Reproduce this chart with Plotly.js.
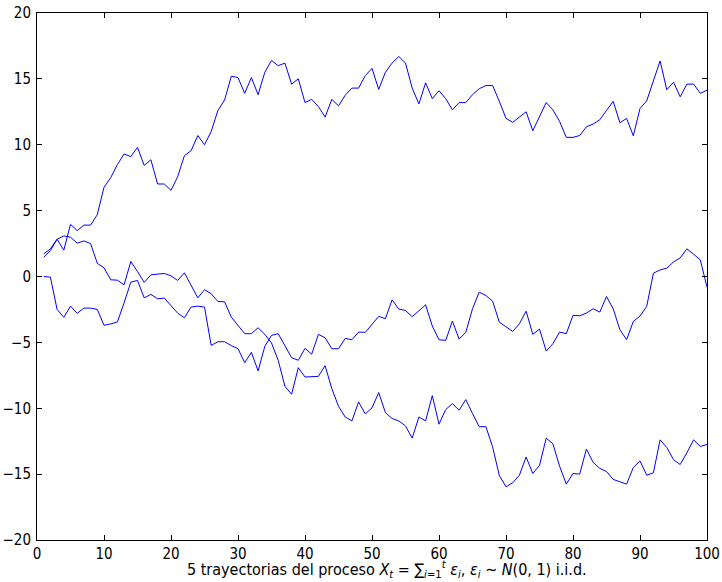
<!DOCTYPE html>
<html>
<head>
<meta charset="utf-8">
<script src="https://cdn.plot.ly/plotly-3.0.1.min.js"></script>
<style>html,body{margin:0;padding:0;background:#fff;}#chart{width:722px;height:582px;}</style>
</head>
<body>
<div id="chart"></div>
<script>
// time steps 1..100
const steps = Array.from({length: 100}, (_, i) => i + 1);

const pathA = [1.46,1.97,2.83,2.0,3.96,3.48,3.9,3.9,4.7,6.77,
  7.5,8.5,9.3,9.1,9.8,8.43,8.86,7.02,7.02,6.54,
  7.58,9.17,9.55,10.7,10.0,11.0,12.6,13.4,15.2,15.1,
  13.9,15.1,13.8,15.5,16.4,16.0,16.2,14.6,15.0,13.2,
  13.45,12.9,12.1,13.45,12.95,13.76,14.3,14.3,15.25,15.8,
  14.2,15.5,16.2,16.7,16.2,14.3,13.1,14.7,13.5,14.1,
  13.5,12.65,13.2,13.2,13.8,14.25,14.5,14.5,13.3,12.0,
  11.7,12.07,12.5,11.06,12.1,13.2,12.65,11.77,10.56,10.56,
  10.7,11.36,11.57,11.9,12.6,13.3,11.67,12.0,10.68,12.75,
  13.33,14.9,16.36,14.17,14.75,13.64,14.6,14.6,13.9,14.14];

const pathB = [1.72,2.1,2.83,3.08,2.98,2.53,2.7,2.5,1.0,0.66,
  -0.25,-0.28,-0.63,1.14,0.38,-0.45,0.13,0.2,0.23,0.05,
  -0.3,0.28,-0.68,-1.62,-1.0,-1.31,-1.9,-1.92,-3.08,-3.74,
  -4.34,-4.34,-3.89,-4.39,-5.05,-6.36,-8.33,-8.94,-6.92,-7.63,
  -7.63,-7.58,-6.77,-8.51,-9.85,-10.66,-10.96,-9.52,-10.43,-9.97,
  -8.81,-10.33,-10.78,-10.96,-11.34,-12.27,-10.66,-10.96,-9.04,-11.21,
  -10.1,-9.65,-10.15,-9.34,-10.4,-11.4,-11.4,-12.93,-15.1,-15.96,
  -15.66,-15.08,-13.7,-14.95,-14.34,-12.27,-12.7,-14.4,-15.76,-14.95,
  -15.0,-13.1,-14.1,-14.57,-14.8,-15.4,-15.58,-15.76,-14.5,-14.0,
  -15.08,-14.9,-12.4,-12.98,-13.9,-14.27,-13.38,-12.4,-12.9,-12.75];

const pathC = [0.0,-0.05,-2.5,-3.1,-2.25,-2.8,-2.4,-2.4,-2.5,-3.7,
  -3.6,-3.45,-2.0,-0.43,-0.3,-1.62,-1.36,-1.69,-1.64,-2.2,
  -2.78,-3.13,-2.32,-2.25,-2.32,-5.23,-4.95,-4.95,-5.25,-5.48,
  -6.54,-5.76,-7.17,-5.3,-4.47,-4.34,-5.3,-6.16,-6.36,-5.45,
  -5.9,-4.39,-4.65,-5.48,-5.48,-4.7,-4.8,-4.22,-4.24,-3.64,
  -3.03,-3.2,-1.77,-2.47,-2.58,-3.05,-2.58,-2.15,-3.76,-4.8,
  -4.85,-3.38,-4.75,-4.24,-2.45,-1.19,-1.44,-1.87,-3.46,-3.79,
  -4.17,-3.59,-2.63,-4.39,-3.99,-5.66,-5.1,-4.22,-4.34,-2.95,
  -2.98,-2.78,-2.45,-2.7,-1.52,-2.45,-4.04,-4.8,-3.41,-3.0,
  -2.27,0.25,0.5,0.63,1.1,1.41,2.1,1.69,1.26,-0.81];

const paths = [pathA, pathB, pathC];
const caption = '5 trayectorias del proceso <i>X</i><sub><i>t</i></sub> = ∑<sub><i>i</i>=1</sub><sup><i>t</i></sup> <i>ε</i><sub><i>i</i></sub>, <i>ε</i><sub><i>i</i></sub> ∼ <i>N</i>(0, 1) i.i.d.';

const FONT = '"Liberation Sans Narrow", "DejaVu Sans Condensed", "Liberation Sans", sans-serif';
const CAPFONT = '"DejaVu Sans Condensed", "DejaVu Sans", sans-serif';

const traces = paths.map(p => ({
  x: steps, y: p, type: 'scatter', mode: 'lines',
  line: {color: '#0000ff', width: 1}, hoverinfo: 'skip', showlegend: false
}));

const axisCommon = {
  showgrid: false, zeroline: false, showline: true, linecolor: '#000', linewidth: 1,
  mirror: 'allticks', ticks: 'inside', ticklen: 5, tickwidth: 1, tickcolor: '#000',
  tickfont: {family: FONT, size: 15, color: '#000'}
};

const layout = {
  width: 722, height: 582,
  margin: {l: 37, r: 15, t: 13, b: 42},
  paper_bgcolor: '#fff', plot_bgcolor: '#fff',
  font: {family: FONT, color: '#000'},
  xaxis: Object.assign({}, axisCommon, {range: [0, 100], dtick: 10, tick0: 0}),
  yaxis: Object.assign({}, axisCommon, {range: [-20, 20], dtick: 5, tick0: 0, ticklabelstandoff: 2}),
  annotations: [{
    text: caption, showarrow: false, xref: 'paper', yref: 'paper',
    x: 0.522, y: -0.056, xanchor: 'center', yanchor: 'middle',
    font: {family: CAPFONT, size: 16, color: '#000'}
  }]
};

Plotly.newPlot('chart', traces, layout, {staticPlot: true, displayModeBar: false});
</script>
</body>
</html>
